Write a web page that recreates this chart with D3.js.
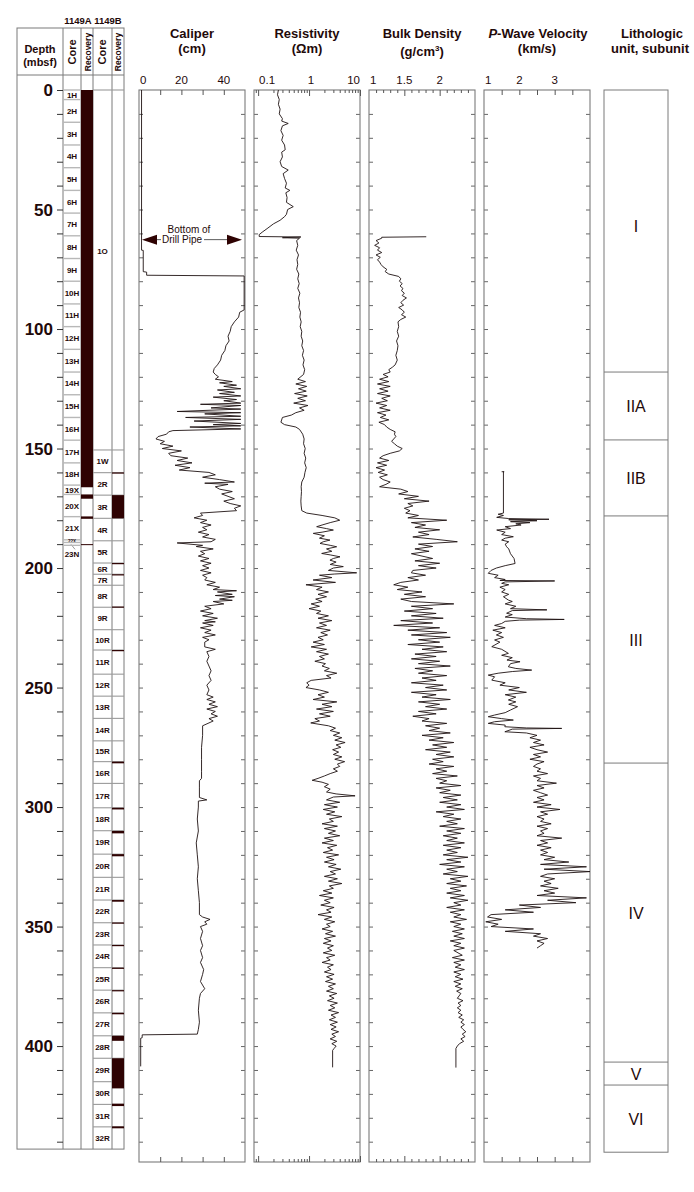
<!DOCTYPE html>
<html><head><meta charset="utf-8">
<script src="https://cdn.jsdelivr.net/npm/d3@7/dist/d3.min.js"></script>
<style>
html,body{margin:0;padding:0;background:#fff}
svg{display:block}
text{font-family:"Liberation Sans",Arial,Helvetica,sans-serif;fill:#1f0a0a}
</style></head><body>
<svg id="chart" width="694" height="1192"></svg>
<script>
// ---------------- DATA ----------------
const depthLabels = [0,50,100,150,200,250,300,350,400];
const coreA_names = ["1H","2H","3H","4H","5H","6H","7H","8H","9H","10H","11H","12H","13H","14H","15H","16H","17H","18H","19X","20X","21X","22X","23N"];
const coreA_tops  = [0,4,13.5,23,32.5,42,51.5,61,70.5,80,89.5,99,108.5,118,127.5,137,146.5,156,165.3,169.2,178.5,188.2,189.3];
const coreA_bottom = 190.5;
const recoveryA = [[0,166.2],[169.2,171.0],[178.4,179.4],[190.0,190.4]];

const coreB_names = ["1O","1W","2R","3R","4R","5R","6R","7R","8R","9R","10R","11R","12R","13R","14R","15R","16R","17R","18R","19R","20R","21R","22R","23R","24R","25R","26R","27R","28R","29R","30R","31R","32R"];
const coreB_tops  = [0,150.6,160.1,169.5,179.2,188.6,197.9,202.6,207.2,216.4,225.8,234.3,244.4,253.6,262.9,272.3,281.0,290.1,300.3,309.9,319.7,329.4,338.9,348.4,357.7,367.2,376.6,386.1,395.7,405.1,414.9,424.4,433.8];
const coreB_bottom = 443.1;
const recoveryB = [[160.0,160.5],[169.5,179.2],[197.9,198.2],[202.6,202.9],[216.1,216.5],[234.3,234.6],[281.0,281.7],[300.3,301.0],[310.0,311.0],[319.7,320.6],[338.9,339.6],[348.3,348.5],[357.7,358.2],[367.2,367.6],[376.6,377.1],[386.1,386.7],[395.7,397.8],[405.1,417.7],[424.1,425.1],[433.6,434.4]];

const unitNames = ["I","IIA","IIB","III","IV","V","VI"];
const unitTops  = [0,118,146.4,178.2,281.6,406.7,416.3];
const unitBottom = 444.4;

const pipeDepth = 62.6;

const caliperTicks = [10,20,30,40];
const caliperLabels = [0,20,40];
const resTicks = [0.09,0.1,0.2,0.3,0.4,0.5,0.6,0.7,0.8,0.9,1,2,3,4,5,6,7,8,9,10];
const resMajor = [0.1,1,10];
const resLabels = ["0.1","1","10"];
const bdTicks = [1.1,1.2,1.3,1.4,1.5,1.6,1.7,1.8,1.9,2.0,2.1,2.2,2.3,2.4];
const bdMajor = [1.5,2.0];
const bdLabels = ["1","1.5","2"];
const pwTicks = [1.5,2,2.5,3,3.5];
const pwLabels = ["1","2","3"];

// [depth (mbsf), caliper (cm)]
const caliper = [[0,1.2],[67,1.2],[67.1,2.0],[76,2.0],[76.2,3.6],[77.5,3.6],[77.8,49.6],[92,49.6],[93,47.5],[95,47],[97,45],[99,43.5],[101,43],[103,42],[105,42.5],[107,41],[109,40.5],[111,39],[113,38.5],[115,37],[116.5,35.5],[118,35],[119,36],[120,37.5],[121,36],[122,44],[122.5,38],[123.5,46],[124,40],[125,48],[125.5,37],[126.5,45],[127,38],[128,48],[128.5,35],[129.5,46],[130,40],[131,48],[131.5,29],[132,48],[133,34],[133.5,48],[134.5,18],[135,48],[135.5,31],[136.5,48],[137,22],[137.8,48],[138.5,26],[139.5,48],[140,35],[140.5,48],[141,24],[141.8,48],[142.5,16],[143,14],[144,13],[145,9],[146,8],[147,12],[148,10],[149,16],[150,11],[151,20],[152,14],[153,15],[154,23],[155,18],[156,25],[157,17],[158,24],[159,19],[160,33],[161,36],[162,30],[163,38],[164,45],[164.5,31],[165,42],[166,36],[167,38],[168,44],[169,39],[170,42],[171,45],[172,40],[173,43],[174,48],[175,45],[176,46],[177,29],[178,30],[179,26],[180,32],[181,29],[182,34],[183,30],[184,32],[185,28],[186,33],[187,30],[188,36],[189,34],[189.5,18],[190.5,30],[191,27],[192,35],[193,29],[194,31],[195,28],[196,33],[197,29],[198,34],[199,30],[200,33],[201,29],[202,34],[203,30],[204,32],[205,31],[206,36],[207,32],[208,38],[209,35],[209.5,46],[210,37],[211,44],[211.5,36],[212,45],[213,38],[213.5,44],[214,35],[215,40],[216,31],[217,34],[218,29],[219,35],[220,30],[221,37],[222,31],[222.5,36],[223,30],[224,35],[225,29],[226,34],[227,31],[228,36],[229,30],[230,33],[231,31],[233,31],[234,36],[235,32],[237,33],[239,32],[241,33],[243,34],[245,33],[247,34],[249,32],[251,33],[253,32],[254,35],[255,32],[256,36],[257,33],[258,37],[259,32],[260,36],[261,34],[262,37],[263,33],[264,35],[266,30],[270,30],[275,29.5],[280,29.5],[285,29.5],[288,29.5],[289,28.5],[292,28.5],[296,28.5],[297,32],[297.5,28],[300,28],[305,27.5],[310,28],[315,27],[320,27.5],[325,28],[330,27.5],[335,28],[340,28.5],[345,28.5],[346,30],[347,33.5],[348,31],[349,32],[350,29],[352,30],[355,29],[358,30],[360,29],[363,30],[365,29],[368,30.5],[370,30],[373,29],[376,31],[378,29],[380,28.5],[385,28],[390,28.5],[393,28],[395,27.5],[395.3,1.5],[396.5,1.5],[396.7,0.8],[408.5,0.8]];

// [depth, resistivity (ohm m)]
const resistivity = [[0,0.25],[2,0.24],[4,0.26],[6,0.25],[8,0.27],[10,0.26],[12,0.3],[13,0.29],[14,0.39],[15,0.3],[17,0.28],[19,0.31],[21,0.29],[23,0.33],[25,0.34],[26,0.29],[28,0.3],[30,0.27],[32,0.29],[33.5,0.39],[35,0.31],[37,0.33],[39,0.36],[41,0.34],[42,0.42],[43,0.35],[45,0.37],[47,0.36],[48.8,0.49],[50,0.38],[52,0.36],[53,0.33],[54.5,0.27],[56,0.2],[58,0.15],[59.5,0.12],[60.5,0.105],[61.3,0.105],[61.5,0.69],[61.8,0.3],[62,0.65],[63,0.57],[65,0.6],[67,0.56],[69,0.62],[71,0.58],[73,0.6],[75,0.57],[77,0.63],[79,0.6],[81,0.64],[83,0.6],[85,0.66],[87,0.62],[89,0.65],[91,0.63],[93,0.68],[95,0.66],[97,0.7],[99,0.67],[101,0.72],[103,0.7],[105,0.75],[107,0.72],[109,0.78],[111,0.74],[113,0.8],[115,0.76],[117,0.82],[119,0.78],[121,0.6],[122,0.85],[123,0.55],[124,0.9],[125,0.62],[126,0.88],[127,0.52],[128,0.92],[129,0.6],[130,0.85],[131,0.5],[132,0.95],[133,0.65],[134,0.8],[135,0.55],[136,0.45],[137,0.3],[139,0.28],[140,0.33],[141,0.55],[142,0.65],[144,0.75],[146,0.8],[148,0.78],[150,0.84],[152,0.8],[154,0.86],[156,0.82],[158,0.88],[160,0.83],[162,0.8],[164,0.72],[166,0.7],[168,0.71],[170,0.7],[172,0.69],[174,0.7],[176,0.72],[177,0.9],[178,1.8],[179,3.2],[180,4.0],[181,2.6],[182,1.8],[182.7,1.41],[183.5,2.2],[184.1,3.0],[185,1.8],[185.5,1.21],[186.5,2.0],[187.5,1.6],[188.3,2.57],[189,1.9],[189.7,1.64],[190.5,2.6],[191.1,3.48],[192,2.2],[193,2.8],[193.9,1.77],[194.5,2.6],[195.3,4.05],[196,3.0],[196.7,2.57],[197.5,3.4],[198.5,2.6],[199.4,4.7],[200,3.0],[201,2.4],[202,8.6],[202.5,3.2],[203,1.6],[204,2.8],[205,1.2],[206,3.3],[207,0.87],[208,1.8],[209,1.4],[210,2.4],[211,1.5],[212,2.2],[213,1.35],[214,1.8],[215,1.1],[216,1.6],[217,1.0],[218,1.7],[219,1.4],[220,2.4],[221,1.5],[222,2.8],[223,1.6],[224,2.2],[225,1.4],[226,2.6],[227,1.7],[228,2.3],[229,1.5],[230,1.9],[231,1.2],[232,2.0],[233,1.1],[234,2.2],[235,1.4],[236,2.4],[237,1.6],[238,2.0],[239,1.3],[240,2.1],[241,1.8],[242,2.5],[243,2.0],[244,3.5],[245,2.2],[246,2.7],[247,1.1],[248,0.9],[249,1.0],[250,0.87],[251,1.6],[252,2.4],[253,1.5],[254,2.0],[255,1.2],[256,3.5],[257,1.8],[258,2.8],[259,1.4],[260,3.0],[261,1.6],[262,2.6],[263,1.3],[264,1.6],[264.8,1.08],[266,2.4],[267,3.3],[268,2.6],[269,4.0],[270,3.0],[271,4.4],[272,3.2],[273,5.1],[274,3.4],[275,4.2],[276,2.9],[277,3.8],[278,3.0],[279,4.4],[280,3.2],[281,5.0],[282,3.6],[283,4.0],[284,3.0],[285,3.6],[286,2.6],[287,2.0],[288,1.5],[288.8,1.15],[289.6,1.8],[290.5,2.4],[291.5,2.0],[292.5,2.6],[293.7,2.2],[294.5,3.4],[295.3,8.0],[295.8,3.0],[297,2.2],[298,4.0],[299,2.0],[300,3.6],[301,1.9],[302,3.2],[303,2.2],[304,4.4],[305,2.5],[306,3.0],[307,1.8],[308,3.6],[309,2.0],[310,3.3],[311,2.4],[312,4.0],[313,2.0],[314,3.0],[315,1.8],[316,3.5],[317,2.3],[318,2.9],[319,1.9],[320,3.8],[321,2.2],[322,3.1],[323,2.0],[324,3.4],[325,2.4],[326,4.2],[327,2.6],[328,3.3],[329,2.0],[330,3.6],[331,2.4],[332,4.4],[333,2.5],[334,3.0],[335,1.9],[336,2.8],[337,1.6],[338,3.0],[339,2.0],[340,2.6],[341,1.7],[342,3.1],[343,2.2],[344,2.7],[345,1.5],[346,2.8],[347,2.0],[348,3.2],[349,2.2],[350,2.6],[351,1.8],[352,2.9],[353,2.1],[354,3.3],[355,2.0],[356,2.7],[357,1.9],[358,3.0],[359,2.3],[360,2.8],[361,1.9],[362,3.2],[363,2.2],[364,2.6],[365,1.8],[366,3.0],[367,2.3],[368,2.7],[369,2.0],[370,3.1],[371,2.2],[372,2.9],[373,2.1],[374,3.3],[375,2.4],[376,3.0],[377,2.2],[378,3.5],[379,2.5],[380,3.1],[381,2.3],[382,3.6],[383,2.6],[384,3.2],[385,2.4],[386,3.8],[387,2.7],[388,3.3],[389,2.5],[390,3.6],[391,2.6],[392,3.4],[393,2.7],[394,3.8],[395,2.8],[396,3.3],[397,2.6],[398,3.5],[399,2.8],[400,3.4],[401,3.1],[401.8,2.9],[408.9,2.9]];

// [depth, bulk density (g/cm3)]
const bulkDensity = [[61.4,1.81],[61.6,1.18],[62,1.18],[63,1.1],[64,1.14],[65,1.08],[66,1.15],[67,1.12],[68,1.18],[69,1.1],[70,1.16],[71,1.12],[72,1.15],[73,1.17],[74,1.2],[75,1.25],[76,1.23],[77,1.28],[78,1.42],[79,1.45],[80,1.43],[81,1.47],[82,1.44],[83,1.48],[84,1.46],[85,1.5],[86,1.47],[87,1.53],[88,1.48],[89,1.45],[90,1.49],[91,1.42],[92,1.47],[93,1.5],[94,1.46],[95,1.52],[96,1.45],[97,1.41],[99,1.42],[101,1.4],[103,1.42],[105,1.39],[107,1.41],[109,1.4],[111,1.38],[113,1.4],[115,1.37],[116,1.33],[117,1.28],[118,1.3],[119,1.2],[120,1.27],[121,1.15],[122,1.28],[123,1.12],[124,1.3],[125,1.15],[126,1.27],[127,1.12],[128,1.3],[129,1.18],[130,1.26],[131,1.1],[132,1.25],[133,1.15],[134,1.3],[135,1.12],[136,1.24],[137,1.16],[138,1.28],[139,1.14],[140,1.22],[141,1.25],[142,1.3],[143,1.37],[144,1.36],[145,1.38],[146,1.35],[147,1.32],[148,1.36],[149,1.4],[150,1.47],[151,1.43],[152,1.3],[153,1.2],[154,1.15],[155,1.28],[156,1.12],[157,1.25],[158,1.1],[159,1.22],[160,1.13],[161,1.26],[162,1.15],[163,1.2],[164,1.3],[165,1.24],[166,1.15],[167,1.45],[168,1.55],[169,1.42],[170,1.7],[171,1.5],[172,1.85],[173,1.55],[174,1.62],[175,1.5],[176,1.58],[177,1.52],[178,1.7],[179,1.55],[180,2.1],[181,1.6],[182,1.8],[183,1.65],[184,2.0],[185,1.7],[186,1.85],[187,1.62],[188,1.95],[189,2.25],[190,1.7],[191,1.9],[192,1.65],[193,1.85],[194,1.6],[195,1.75],[196,1.9],[197,1.65],[198,2.0],[199,1.7],[200,1.95],[201,1.62],[202,1.6],[203,1.8],[204,1.55],[205,1.7],[206,1.45],[207,1.35],[208,1.55],[209,1.4],[210,1.75],[211,1.5],[212,1.8],[213,1.45],[214,1.6],[215,2.2],[216,1.6],[217,1.9],[218,1.5],[219,1.95],[220,1.6],[221,2.05],[222,1.45],[223,1.9],[224,1.35],[225,2.0],[226,1.55],[227,2.1],[228,1.6],[229,2.15],[230,1.7],[231,2.0],[232,1.55],[233,2.05],[234,1.75],[235,2.1],[236,1.65],[237,1.95],[238,1.6],[239,2.0],[240,1.7],[241,2.15],[242,1.65],[243,1.9],[244,1.7],[245,2.1],[246,1.75],[247,1.95],[248,1.6],[249,2.05],[250,1.8],[251,2.1],[252,1.6],[253,1.95],[254,1.75],[255,2.15],[256,1.7],[257,2.0],[258,1.8],[259,2.1],[260,1.7],[261,1.95],[262,1.62],[263,1.85],[264,1.75],[265,2.1],[266,1.8],[267,2.0],[268,1.85],[269,2.15],[270,1.75],[271,2.05],[272,1.85],[273,2.2],[274,1.9],[275,2.1],[276,1.8],[277,2.15],[278,1.95],[279,2.2],[280,1.9],[281,2.05],[282,1.85],[283,2.2],[284,1.95],[285,2.1],[286,1.9],[287,2.25],[288,1.95],[289,2.1],[290,2.0],[291,2.3],[292,1.95],[293,2.15],[294,2.0],[295,2.3],[296,2.05],[297,2.25],[298,2.0],[299,2.3],[300,2.1],[301,2.35],[302,1.95],[303,2.2],[304,2.05],[305,2.3],[306,2.1],[307,2.25],[308,2.0],[309,2.35],[310,2.1],[311,2.3],[312,2.05],[313,2.25],[314,2.1],[315,2.35],[316,2.05],[317,2.3],[318,2.1],[319,2.25],[320,2.05],[321,2.4],[322,2.1],[323,2.3],[324,2.0],[325,2.35],[326,2.1],[327,2.25],[328,2.05],[329,2.4],[330,2.15],[331,2.3],[332,2.1],[333,2.38],[334,2.15],[335,2.3],[336,2.1],[337,2.35],[338,2.15],[339,2.4],[340,2.2],[341,2.3],[342,2.1],[343,2.35],[344,2.15],[345,2.3],[346,2.2],[347,2.38],[348,2.15],[349,2.3],[350,2.2],[351,2.35],[352,2.18],[353,2.32],[354,2.2],[355,2.35],[356,2.15],[357,2.3],[358,2.2],[359,2.35],[360,2.2],[362,2.32],[363,2.18],[364,2.35],[365,2.2],[366,2.3],[367,2.22],[368,2.35],[369,2.2],[370,2.3],[371,2.22],[372,2.33],[373,2.2],[374,2.3],[375,2.22],[376,2.32],[377,2.24],[378,2.3],[380,2.25],[381,2.33],[382,2.26],[383,2.3],[384,2.25],[385,2.3],[386,2.26],[387,2.32],[388,2.27],[389,2.34],[390,2.3],[391,2.35],[392,2.3],[393,2.33],[394,2.37],[395,2.32],[396,2.36],[397,2.3],[398,2.34],[399,2.28],[400,2.25],[401,2.23],[409,2.23]];

// [depth, P-wave velocity (km/s)]
const pWave = [[159.7,1.5],[159.7,1.57],[159.7,1.55],[177.0,1.55],[177.5,1.4],[178,1.55],[178.8,1.36],[179.3,1.7],[179.6,2.84],[179.8,1.7],[180.2,2.5],[180.6,1.75],[181,2.3],[181.5,1.9],[182,2.05],[182.7,1.6],[183.5,1.75],[184.1,1.36],[185,1.6],[186,1.5],[186.9,1.83],[187.5,1.6],[188.3,1.5],[189,1.7],[190,1.6],[191.1,1.64],[192,1.7],[194,1.75],[196,1.85],[198.1,1.88],[199,1.6],[200,1.35],[201,1.2],[202.2,1.12],[203,1.4],[204,1.3],[204.8,1.6],[205.2,1.45],[205.4,3.0],[205.8,1.6],[206.4,1.5],[207,1.7],[208,1.45],[209,1.6],[210,1.5],[211,1.7],[212,1.55],[213.4,1.69],[214,1.8],[215,1.6],[216,1.9],[217,1.75],[217.5,2.78],[217.8,1.8],[218.9,1.64],[219.5,1.8],[220.5,1.6],[221.2,2.2],[221.5,3.27],[221.8,2.0],[222.3,1.6],[223.2,1.5],[224,1.3],[225,1.6],[226,1.25],[227,1.5],[228,1.35],[229,1.55],[230.1,1.3],[231,1.45],[232.9,1.22],[234,1.5],[235.7,1.69],[236.5,1.5],[237.5,1.8],[238.5,1.65],[239.2,2.02],[240,1.75],[241.3,1.69],[242,1.9],[242.7,2.35],[243.3,1.8],[244,1.4],[244.8,1.12],[245.5,1.3],[246.9,1.22],[248,1.6],[249,1.45],[250,2.0],[251,1.7],[252,2.2],[253,1.6],[254,1.9],[255.2,1.69],[256,1.9],[257,1.7],[258,1.95],[259.4,1.75],[260.5,1.6],[261.5,1.3],[262.2,1.12],[263,1.5],[263.6,1.83],[264.3,1.3],[265,1.12],[265.7,1.6],[266.4,1.59],[266.9,2.2],[267.1,3.2],[267.4,1.8],[268.5,1.59],[269,2.2],[270,2.5],[271,2.3],[272,2.6],[273,2.4],[274,2.7],[275,2.3],[276,2.5],[277,2.8],[278,2.4],[279,2.6],[280,2.3],[281,2.7],[282,2.5],[283,2.4],[284,2.6],[285,2.5],[286,2.8],[287,2.4],[288,2.6],[289,2.5],[290,3.05],[291,2.5],[292,2.7],[293,2.4],[294,2.6],[295,2.8],[296,2.5],[297,2.7],[298,2.4],[299,2.9],[300,2.5],[301,3.15],[302,2.6],[303,2.8],[304,2.5],[305,2.7],[306,2.6],[307,2.9],[308,2.5],[309,2.8],[310,2.6],[311,2.7],[312,2.5],[313,3.2],[314,2.6],[315,2.8],[316,2.5],[317,2.9],[318,2.6],[319,2.8],[320,2.6],[321,3.0],[322,2.7],[323,3.4],[324,2.6],[325,3.9],[326,2.7],[327,4.0],[328,2.8],[329,2.6],[330,3.0],[331,2.7],[332,2.9],[333,2.6],[334,3.1],[335,2.7],[336,3.0],[337,2.5],[338,3.9],[339,2.8],[340,3.6],[341,2.0],[342,2.6],[343,1.6],[344,2.4],[345,1.2],[346,1.1],[347,1.5],[348,1.05],[349,1.4],[350,1.2],[351,2.4],[352,1.6],[353,2.6],[354,2.4],[355,2.8],[356,2.5],[357,2.7],[358,2.6],[359,2.5]];

// ---------------- DRAWING ----------------
const svg = d3.select("#chart");
const ink = "#1f0a0a", frame = "#7a7a7a", curveInk = "#1e1212", recInk = "#2e0202";
const y = d3.scaleLinear().domain([0, 448.5]).range([90, 1162]);

// ----- left core/depth block
const LB = {x0:17, xA:63, xAr:81, xB:93, xBr:112, x1:124, top:28, head:75};
const lbBot = y(coreB_bottom);
const g0 = svg.append("g");
g0.append("rect").attr("x",LB.x0).attr("y",LB.top).attr("width",LB.x1-LB.x0).attr("height",lbBot-LB.top)
  .attr("fill","none").attr("stroke",frame);
g0.append("line").attr("x1",LB.x0).attr("x2",LB.x1).attr("y1",LB.head).attr("y2",LB.head).attr("stroke",frame);
[LB.xA,LB.xAr,LB.xB,LB.xBr].forEach(x=>g0.append("line").attr("x1",x).attr("x2",x).attr("y1",LB.top).attr("y2",lbBot).attr("stroke",frame));

g0.append("text").attr("x",78).attr("y",24).attr("text-anchor","middle").attr("font-size",9.5).attr("font-weight","bold").text("1149A");
g0.append("text").attr("x",108).attr("y",24).attr("text-anchor","middle").attr("font-size",9.5).attr("font-weight","bold").text("1149B");
g0.append("text").attr("x",40).attr("y",53).attr("text-anchor","middle").attr("font-size",11).attr("font-weight","bold").text("Depth");
g0.append("text").attr("x",40).attr("y",66).attr("text-anchor","middle").attr("font-size",11).attr("font-weight","bold").text("(mbsf)");
[[72,"Core",11],[87.5,"Recovery",8.5],[102.5,"Core",11],[118,"Recovery",8.5]].forEach(([cx,t,fs])=>{
  g0.append("text").attr("transform",`translate(${cx+fs*0.36},52) rotate(-90)`).attr("text-anchor","middle")
    .attr("font-size",fs).attr("font-weight","bold").text(t);
});

// depth axis
const depthAxis = d3.axisLeft(y).tickValues(d3.range(0,441,10)).tickSize(6).tickFormat("");
const ax = g0.append("g").attr("transform",`translate(${LB.xA},0)`).call(depthAxis);
ax.select(".domain").remove();
ax.selectAll(".tick line").attr("stroke","#333");
depthLabels.forEach(d=>g0.append("text").attr("x",53).attr("y",y(d)+6).attr("text-anchor","end")
  .attr("font-size",17).attr("font-weight","bold").text(d));

// 1149A cores
coreA_tops.forEach((t,i)=>{
  const b = i<coreA_tops.length-1 ? coreA_tops[i+1] : coreA_bottom;
  g0.append("line").attr("x1",LB.xA).attr("x2",LB.xAr).attr("y1",y(t)).attr("y2",y(t)).attr("stroke","#b8b8b8").attr("stroke-width",1.4);
  if(coreA_names[i]==="22X"){
    g0.append("text").attr("x",72).attr("y",y((t+b)/2)+1.5).attr("text-anchor","middle").attr("font-size",4.5).attr("font-weight","bold").text("22X");
  } else if(coreA_names[i]==="23N"){
    g0.append("line").attr("x1",71).attr("x2",75).attr("y1",y(b)-1).attr("y2",y(b)+4).attr("stroke","#555").attr("stroke-width",0.6);
    g0.append("text").attr("x",72).attr("y",y(b)+12).attr("text-anchor","middle").attr("font-size",8).attr("font-weight","bold").text("23N");
  } else {
    g0.append("text").attr("x",72).attr("y",y((t+b)/2)+3).attr("text-anchor","middle").attr("font-size",8).attr("font-weight","bold").text(coreA_names[i]);
  }
});
g0.append("line").attr("x1",LB.xA).attr("x2",LB.xAr).attr("y1",y(coreA_bottom)).attr("y2",y(coreA_bottom)).attr("stroke","#b8b8b8").attr("stroke-width",1.4);
recoveryA.forEach(([a,b])=>g0.append("rect").attr("x",LB.xAr).attr("y",y(a)).attr("width",LB.xB-LB.xAr).attr("height",Math.max(1,y(b)-y(a))).attr("fill",recInk));

// 1149B cores
coreB_tops.forEach((t,i)=>{
  const b = i<coreB_tops.length-1 ? coreB_tops[i+1] : coreB_bottom;
  g0.append("line").attr("x1",LB.xB).attr("x2",LB.x1).attr("y1",y(t)).attr("y2",y(t)).attr("stroke","#9a9a9a").attr("stroke-width",1.1);
  const ld = coreB_names[i]==="1O" ? 67.5 : (t+b)/2;
  g0.append("text").attr("x",102.5).attr("y",y(ld)+3).attr("text-anchor","middle").attr("font-size",8).attr("font-weight","bold").text(coreB_names[i]);
});
recoveryB.forEach(([a,b])=>g0.append("rect").attr("x",LB.xBr).attr("y",y(a)).attr("width",LB.x1-LB.xBr).attr("height",Math.max(1.2,y(b)-y(a))).attr("fill",recInk));

// ----- log panels
const panels = [
  {key:"cal", x0:139, x1:245, title:["Caliper","(cm)"]},
  {key:"res", x0:254, x1:360, title:["Resistivity","(Ωm)"]},
  {key:"bd",  x0:369, x1:475, title:["Bulk Density","(g/cm3)"]},
  {key:"pw",  x0:484, x1:590, title:["P-Wave Velocity","(km/s)"]}
];
const xs = {
  cal: d3.scaleLinear().domain([0,50]).range([139,245]),
  res: d3.scaleLog().domain([0.083,10]).range([254,360]),
  bd:  d3.scaleLinear().domain([1,2.5]).range([369,475]),
  pw:  d3.scaleLinear().domain([1,4]).range([484,590])
};
const pTop = y(0), pBot = y(448.5);
const sideTicks = d3.range(10,441,10);

panels.forEach(p=>{
  const g = svg.append("g");
  const cx = (p.x0+p.x1)/2;
  if(p.key==="pw"){
    const t = g.append("text").attr("x",cx+1).attr("y",38).attr("text-anchor","middle").attr("font-size",13).attr("font-weight","bold");
    t.append("tspan").attr("font-style","italic").text("P");
    t.append("tspan").text("-Wave Velocity");
  } else {
    g.append("text").attr("x",cx).attr("y",38).attr("text-anchor","middle").attr("font-size",13).attr("font-weight","bold").text(p.title[0]);
  }
  if(p.key==="bd"){
    const t = g.append("text").attr("x",cx).attr("y",56).attr("text-anchor","middle").attr("font-size",13).attr("font-weight","bold");
    t.append("tspan").text("(g/cm");
    t.append("tspan").attr("font-size",8).attr("dy",-5).text("3");
    t.append("tspan").attr("dy",5).text(")");
  } else {
    g.append("text").attr("x",cx).attr("y",53).attr("text-anchor","middle").attr("font-size",13).attr("font-weight","bold").text(p.title[1]);
  }
  const lAx = d3.axisRight(y).tickValues(sideTicks).tickSize(4).tickFormat("");
  const rAx = d3.axisLeft(y).tickValues(sideTicks).tickSize(4).tickFormat("");
  const gl = g.append("g").attr("transform",`translate(${p.x0},0)`).call(lAx);
  const gr = g.append("g").attr("transform",`translate(${p.x1},0)`).call(rAx);
  [gl,gr].forEach(a=>{a.select(".domain").remove(); a.selectAll(".tick line").attr("stroke","#666");});
  g.append("rect").attr("x",p.x0).attr("y",pTop).attr("width",p.x1-p.x0).attr("height",pBot-pTop)
    .attr("fill","none").attr("stroke",frame).attr("stroke-width",1.1);
});

function valueTicks(scale, vals, major, minorLen, majorLen){
  const topAx = d3.axisBottom(scale).tickValues(vals).tickSize(minorLen).tickFormat("");
  const botAx = d3.axisTop(scale).tickValues(vals).tickSize(minorLen).tickFormat("");
  const gt = svg.append("g").attr("transform",`translate(0,${pTop})`).call(topAx);
  const gb = svg.append("g").attr("transform",`translate(0,${pBot})`).call(botAx);
  [gt,gb].forEach(a=>{a.select(".domain").remove(); a.selectAll(".tick line").attr("stroke","#555");});
  gt.selectAll(".tick line").attr("y2",d=>major.includes(d)?majorLen:minorLen);
  gb.selectAll(".tick line").attr("y2",d=>major.includes(d)?-majorLen:-minorLen);
}
valueTicks(xs.cal, caliperTicks, [], 5, 5);
valueTicks(xs.res, resTicks, resMajor, 3, 6);
valueTicks(xs.bd, bdTicks, bdMajor, 3, 6);
valueTicks(xs.pw, pwTicks, [], 5, 5);

const lblY = 84;
function lbl(x,t,anchor){svg.append("text").attr("x",x).attr("y",lblY).attr("text-anchor",anchor).attr("font-size",11.5).text(t);}
caliperLabels.forEach(v=>lbl(v===0?xs.cal(v)+1:xs.cal(v), v, v===0?"start":"middle"));
lbl(xs.res(0.1)+1,resLabels[0],"start"); lbl(xs.res(1)+2,resLabels[1],"middle"); lbl(xs.res(10),resLabels[2],"end");
lbl(xs.bd(1)+1,bdLabels[0],"start"); lbl(xs.bd(1.5),bdLabels[1],"middle"); lbl(xs.bd(2),bdLabels[2],"middle");
lbl(xs.pw(1)+1,pwLabels[0],"start"); lbl(xs.pw(2),pwLabels[1],"middle"); lbl(xs.pw(3),pwLabels[2],"middle");

function curve(data, key){
  svg.append("path").datum(data)
    .attr("d", d3.line().x(d=>xs[key](d[1])).y(d=>y(d[0])))
    .attr("fill","none").attr("stroke",curveInk).attr("stroke-width",0.9).attr("stroke-linejoin","round");
}
curve(caliper,"cal");
curve(resistivity,"res");
curve(bulkDensity,"bd");
curve(pWave,"pw");

const py = y(pipeDepth);
const ga = svg.append("g");
ga.append("path").attr("d",`M142,${py} L157,${py-5} L157,${py+5} Z`).attr("fill",recInk);
ga.append("path").attr("d",`M242,${py} L227,${py-5} L227,${py+5} Z`).attr("fill",recInk);
ga.append("line").attr("x1",157).attr("x2",161).attr("y1",py).attr("y2",py).attr("stroke","#333").attr("stroke-width",0.8);
ga.append("line").attr("x1",204).attr("x2",227).attr("y1",py).attr("y2",py).attr("stroke","#333").attr("stroke-width",0.8);
ga.append("text").attr("x",189).attr("y",py-7).attr("text-anchor","middle").attr("font-size",10).text("Bottom of");
ga.append("text").attr("x",162).attr("y",py+3.5).attr("text-anchor","start").attr("font-size",10).text("Drill Pipe");

const LX0 = 604, LX1 = 668;
const gL = svg.append("g");
gL.append("text").attr("x",652).attr("y",38).attr("text-anchor","middle").attr("font-size",13).attr("font-weight","bold").text("Lithologic");
gL.append("text").attr("x",650).attr("y",53).attr("text-anchor","middle").attr("font-size",13).attr("font-weight","bold").text("unit, subunit");
gL.append("rect").attr("x",LX0).attr("y",y(0)).attr("width",LX1-LX0).attr("height",y(unitBottom)-y(0)).attr("fill","none").attr("stroke",frame);
unitTops.forEach((t,i)=>{
  const b = i<unitTops.length-1 ? unitTops[i+1] : unitBottom;
  if(i>0) gL.append("line").attr("x1",LX0).attr("x2",LX1).attr("y1",y(t)).attr("y2",y(t)).attr("stroke",frame);
  const ld = unitNames[i]==="I" ? 57 : (t+b)/2;
  gL.append("text").attr("x",(LX0+LX1)/2).attr("y",y(ld)+6).attr("text-anchor","middle").attr("font-size",16).text(unitNames[i]);
});
</script></body></html>
